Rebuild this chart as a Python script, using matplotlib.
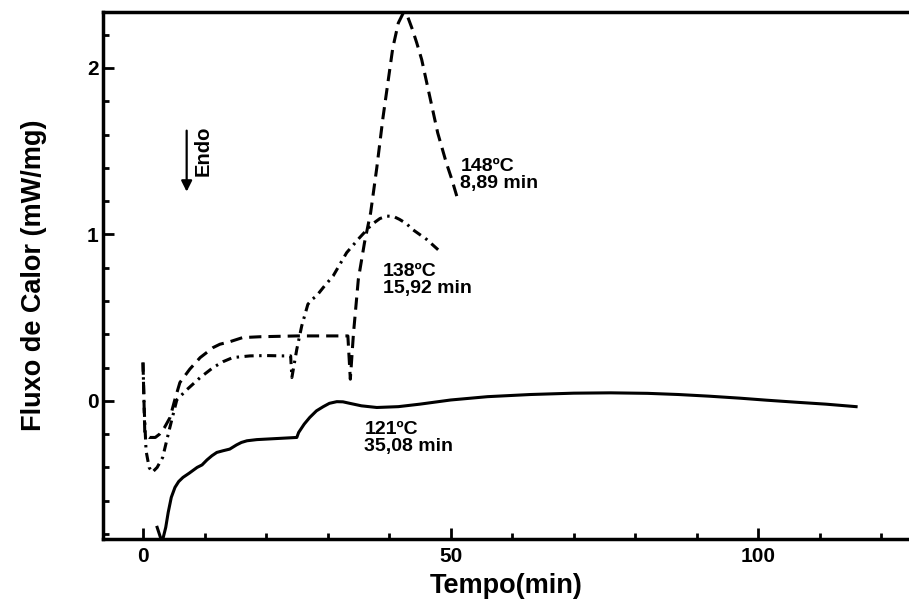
import matplotlib
matplotlib.use('Agg')
import matplotlib.pyplot as plt
from matplotlib.ticker import MultipleLocator

plt.rcParams['font.family'] = ['Liberation Sans', 'DejaVu Sans']
plt.rcParams['font.weight'] = 'bold'

# 121 C isotherm (solid)
t_121 = [2.3, 3.1, 3.7, 4.1, 4.6, 5.2, 5.8, 6.5, 7.5, 8.8, 9.6, 10.4, 11.2, 12.0, 13.0, 14.1,
         15.2, 16.0, 16.9, 18.5, 20.0, 22.5, 25.0, 25.3, 26.2, 27.1, 28.2, 29.3, 30.3, 31.5,
         32.5, 33.6, 35.5, 38.0, 41.5, 45.0, 50.0, 56.0, 63.0, 70.0, 76.0, 82.0, 87.0, 92.0,
         97.0, 101.3, 106.0, 111.0, 115.9]
q_121 = [-0.76, -0.85, -0.76, -0.67, -0.58, -0.52, -0.485, -0.46, -0.435, -0.40, -0.385, -0.355,
         -0.33, -0.31, -0.30, -0.29, -0.265, -0.25, -0.24, -0.233, -0.23, -0.225, -0.22, -0.19,
         -0.14, -0.10, -0.06, -0.035, -0.015, -0.005, -0.006, -0.015, -0.03, -0.04, -0.035,
         -0.02, 0.005, 0.025, 0.038, 0.046, 0.048, 0.045, 0.038, 0.028, 0.016, 0.004, -0.008,
         -0.02, -0.035]

# 138 C isotherm (dash-dot)
t_138 = [0.0, 0.2, 0.5, 1.0, 1.5, 2.3, 3.2, 4.3, 5.5, 7.1, 9.3, 11.4, 13.0, 14.6, 17.4, 20.0,
         22.7, 24.0, 24.2, 25.0, 25.8, 26.8, 27.5, 28.2, 29.5, 30.9, 33.1, 35.2, 37.2, 38.5,
         39.6, 40.7, 41.7, 42.8, 43.8, 46.1, 48.2]
q_138 = [0.23, -0.05, -0.30, -0.40, -0.43, -0.40, -0.34, -0.17, 0.006, 0.066, 0.14, 0.20, 0.235,
         0.26, 0.27, 0.272, 0.27, 0.27, 0.14, 0.31, 0.45, 0.58, 0.61, 0.63, 0.69, 0.75, 0.89,
         0.98, 1.06, 1.095, 1.11, 1.108, 1.09, 1.065, 1.03, 0.97, 0.90]

# 148 C isotherm (dashed)
t_148 = [0.0, 0.3, 1.0, 2.0, 2.7, 3.5, 4.4, 5.2, 6.0, 7.6, 9.3, 11.4, 12.5, 14.1, 16.2, 19.0,
         25.0, 33.3, 33.7, 34.2, 35.0, 36.0, 37.0, 38.0, 39.0, 39.8, 40.6, 41.5, 42.3, 43.0,
         43.8, 44.5, 45.3, 46.6, 47.9, 49.3, 50.2, 51.0]
q_148 = [0.23, -0.20, -0.22, -0.22, -0.20, -0.16, -0.10, 0.01, 0.11, 0.19, 0.26, 0.32, 0.34,
         0.355, 0.38, 0.385, 0.39, 0.39, 0.13, 0.40, 0.73, 0.95, 1.13, 1.40, 1.70, 1.91, 2.12,
         2.27, 2.33, 2.31, 2.23, 2.15, 2.05, 1.83, 1.61, 1.43, 1.33, 1.23]

labels = ['121ºC\n35,08 min', '138ºC\n15,92 min', '148ºC\n8,89 min']
label_pos = [(36.0, -0.12), (39.0, 0.83), (51.6, 1.46)]

fig = plt.figure(figsize=(9.09, 6.01), dpi=100)
ax = fig.add_axes([0.1133, 0.1032, 0.8867, 0.8768])

lw = 2.2
ax.plot(t_121, q_121, color='black', lw=lw, ls='-')
ax.plot(t_138, q_138, color='black', lw=lw, ls=(0, (3.0, 1.8, 0.8, 1.8)))
ax.plot(t_148, q_148, color='black', lw=lw, ls=(0, (4.0, 2.3)))

for txt, (x, y) in zip(labels, label_pos):
    ax.text(x, y, txt, fontsize=14, fontweight='bold', va='top', ha='left', linespacing=1.0)

# Endo arrow
ax.annotate('', xy=(7.1, 1.24), xytext=(7.1, 1.64),
            arrowprops=dict(arrowstyle='-|>', color='black', lw=1.6, mutation_scale=16))
ax.text(9.8, 1.5, 'Endo', rotation=90, fontsize=14.5, fontweight='bold', ha='center', va='center')

ax.set_xlim(-6.5, 124.5)
ax.set_ylim(-0.83, 2.336)
ax.xaxis.set_major_locator(MultipleLocator(50))
ax.xaxis.set_minor_locator(MultipleLocator(10))
ax.yaxis.set_major_locator(MultipleLocator(1))
ax.yaxis.set_minor_locator(MultipleLocator(0.2))
ax.tick_params(which='both', direction='in', width=2, labelsize=15, top=False, right=False)
ax.tick_params(which='major', length=8)
ax.tick_params(which='minor', length=4)
ax.tick_params(axis='x', which='major', pad=6)
ax.tick_params(axis='y', which='major', pad=3)
for lab in ax.get_xticklabels() + ax.get_yticklabels():
    lab.set_fontweight('bold')

ax.spines['right'].set_visible(False)
for s in ['left', 'bottom', 'top']:
    ax.spines[s].set_linewidth(2.5)

ax.set_xlabel('Tempo(min)', fontsize=19.5, fontweight='bold', labelpad=5)
ax.set_ylabel('Fluxo de Calor (mW/mg)', fontsize=19.5, fontweight='bold', labelpad=29)

fig.savefig('out.png', dpi=100)
